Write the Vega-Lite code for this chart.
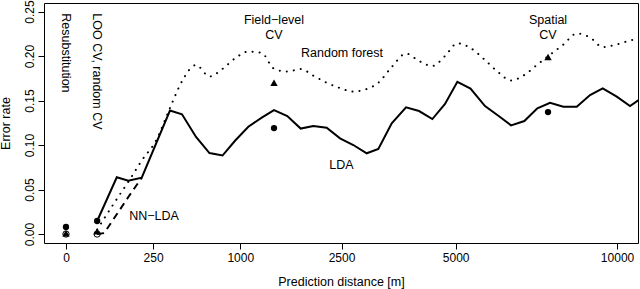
{
  "$schema": "https://vega.github.io/schema/vega-lite/v6.json",
  "width": 594,
  "height": 240,
  "autosize": {"type": "none"},
  "padding": {"left": 44, "top": 3, "right": 2, "bottom": 46},
  "background": "white",
  "config": {
    "font": "Liberation Sans",
    "view": {"stroke": "black", "strokeWidth": 1},
    "axis": {
      "domain": false,
      "grid": false,
      "tickColor": "black",
      "tickSize": 6,
      "labelColor": "black",
      "labelFontSize": 12,
      "titleColor": "black",
      "titleFontSize": 12.5,
      "titleFontWeight": "normal",
      "labelFont": "Liberation Sans",
      "titleFont": "Liberation Sans"
    }
  },
  "datasets": {
    "lines": [
      {"method": "LDA", "dist": 32, "err": 0.0146},
      {"method": "LDA", "dist": 85, "err": 0.0637},
      {"method": "LDA", "dist": 128, "err": 0.0599},
      {"method": "LDA", "dist": 189, "err": 0.0633},
      {"method": "LDA", "dist": 356, "err": 0.1388},
      {"method": "LDA", "dist": 443, "err": 0.1346},
      {"method": "LDA", "dist": 557, "err": 0.109},
      {"method": "LDA", "dist": 678, "err": 0.091},
      {"method": "LDA", "dist": 807, "err": 0.0882},
      {"method": "LDA", "dist": 941, "err": 0.1048},
      {"method": "LDA", "dist": 1095, "err": 0.1206},
      {"method": "LDA", "dist": 1262, "err": 0.1307},
      {"method": "LDA", "dist": 1425, "err": 0.1393},
      {"method": "LDA", "dist": 1613, "err": 0.1326},
      {"method": "LDA", "dist": 1814, "err": 0.1185},
      {"method": "LDA", "dist": 2014, "err": 0.1213},
      {"method": "LDA", "dist": 2238, "err": 0.1194},
      {"method": "LDA", "dist": 2473, "err": 0.1075},
      {"method": "LDA", "dist": 2719, "err": 0.1},
      {"method": "LDA", "dist": 2978, "err": 0.0907},
      {"method": "LDA", "dist": 3213, "err": 0.0955},
      {"method": "LDA", "dist": 3494, "err": 0.1244},
      {"method": "LDA", "dist": 3808, "err": 0.1424},
      {"method": "LDA", "dist": 4105, "err": 0.1382},
      {"method": "LDA", "dist": 4420, "err": 0.1292},
      {"method": "LDA", "dist": 4731, "err": 0.1461},
      {"method": "LDA", "dist": 5044, "err": 0.1711},
      {"method": "LDA", "dist": 5389, "err": 0.1635},
      {"method": "LDA", "dist": 5782, "err": 0.1438},
      {"method": "LDA", "dist": 6156, "err": 0.1329},
      {"method": "LDA", "dist": 6522, "err": 0.1221},
      {"method": "LDA", "dist": 6919, "err": 0.127},
      {"method": "LDA", "dist": 7317, "err": 0.1412},
      {"method": "LDA", "dist": 7716, "err": 0.1475},
      {"method": "LDA", "dist": 8146, "err": 0.143},
      {"method": "LDA", "dist": 8591, "err": 0.143},
      {"method": "LDA", "dist": 9044, "err": 0.1562},
      {"method": "LDA", "dist": 9487, "err": 0.1637},
      {"method": "LDA", "dist": 9990, "err": 0.1543},
      {"method": "LDA", "dist": 10477, "err": 0.1438},
      {"method": "LDA", "dist": 10800, "err": 0.1505},
      {"method": "RF", "dist": 32, "err": 0.005},
      {"method": "RF", "dist": 85, "err": 0.0393},
      {"method": "RF", "dist": 128, "err": 0.0587},
      {"method": "RF", "dist": 189, "err": 0.0826},
      {"method": "RF", "dist": 267, "err": 0.105},
      {"method": "RF", "dist": 356, "err": 0.1416},
      {"method": "RF", "dist": 443, "err": 0.1716},
      {"method": "RF", "dist": 557, "err": 0.1899},
      {"method": "RF", "dist": 678, "err": 0.177},
      {"method": "RF", "dist": 807, "err": 0.1856},
      {"method": "RF", "dist": 941, "err": 0.1974},
      {"method": "RF", "dist": 1095, "err": 0.205},
      {"method": "RF", "dist": 1262, "err": 0.2034},
      {"method": "RF", "dist": 1425, "err": 0.1858},
      {"method": "RF", "dist": 1613, "err": 0.1825},
      {"method": "RF", "dist": 1814, "err": 0.1854},
      {"method": "RF", "dist": 2014, "err": 0.178},
      {"method": "RF", "dist": 2238, "err": 0.17},
      {"method": "RF", "dist": 2473, "err": 0.164},
      {"method": "RF", "dist": 2719, "err": 0.16},
      {"method": "RF", "dist": 2978, "err": 0.163},
      {"method": "RF", "dist": 3213, "err": 0.17},
      {"method": "RF", "dist": 3494, "err": 0.1876},
      {"method": "RF", "dist": 3808, "err": 0.2028},
      {"method": "RF", "dist": 4105, "err": 0.1944},
      {"method": "RF", "dist": 4420, "err": 0.1888},
      {"method": "RF", "dist": 4731, "err": 0.2},
      {"method": "RF", "dist": 5044, "err": 0.2143},
      {"method": "RF", "dist": 5389, "err": 0.209},
      {"method": "RF", "dist": 5782, "err": 0.1955},
      {"method": "RF", "dist": 6156, "err": 0.1817},
      {"method": "RF", "dist": 6522, "err": 0.1725},
      {"method": "RF", "dist": 6919, "err": 0.1787},
      {"method": "RF", "dist": 7317, "err": 0.1904},
      {"method": "RF", "dist": 7716, "err": 0.2015},
      {"method": "RF", "dist": 8146, "err": 0.2129},
      {"method": "RF", "dist": 8591, "err": 0.2253},
      {"method": "RF", "dist": 9044, "err": 0.2208},
      {"method": "RF", "dist": 9487, "err": 0.2101},
      {"method": "RF", "dist": 9990, "err": 0.2131},
      {"method": "RF", "dist": 10477, "err": 0.2174},
      {"method": "RF", "dist": 10800, "err": 0.2197},
      {"method": "NN-LDA", "dist": 32, "err": 0.0},
      {"method": "NN-LDA", "dist": 48, "err": 0.001},
      {"method": "NN-LDA", "dist": 85, "err": 0.0222},
      {"method": "NN-LDA", "dist": 128, "err": 0.0416},
      {"method": "NN-LDA", "dist": 189, "err": 0.0633}
    ],
    "points": [
      {"method": "LDA", "dist": 0, "err": 0.008},
      {"method": "RF", "dist": 0, "err": 0.0008},
      {"method": "NN-LDA", "dist": 0, "err": 0.0},
      {"method": "LDA", "dist": 32, "err": 0.0146},
      {"method": "RF", "dist": 32, "err": 0.003},
      {"method": "NN-LDA", "dist": 32, "err": 0.0},
      {"method": "LDA", "dist": 1425, "err": 0.119},
      {"method": "RF", "dist": 1425, "err": 0.17},
      {"method": "LDA", "dist": 7652, "err": 0.137},
      {"method": "RF", "dist": 7652, "err": 0.199}
    ],
    "vlabels": [
      {"label": "Resubstitution", "dist": 0, "err": 0.248},
      {"label": "LOO CV, random CV", "dist": 32, "err": 0.248}
    ],
    "labels": [
      {"label": "Field−level", "dist": 1425, "err": 0.2404},
      {"label": "CV", "dist": 1425, "err": 0.2236},
      {"label": "Random forest", "dist": 2509, "err": 0.2034},
      {"label": "Spatial", "dist": 7652, "err": 0.2404},
      {"label": "CV", "dist": 7652, "err": 0.2236},
      {"label": "LDA", "dist": 2500, "err": 0.0775},
      {"label": "NN−LDA", "dist": 255, "err": 0.0202}
    ]
  },
  "encoding": {
    "x": {
      "field": "dist",
      "type": "quantitative",
      "scale": {"type": "sqrt", "domain": [-15.92, 10775], "nice": false, "zero": false},
      "axis": {
        "values": [0, 250, 1000, 2500, 5000, 10000],
        "format": "d",
        "title": "Prediction distance [m]",
        "labelBaseline": "alphabetic",
        "labelPadding": 12,
        "titleBaseline": "alphabetic",
        "titleY": 42
      }
    },
    "y": {
      "field": "err",
      "type": "quantitative",
      "scale": {"domain": [-0.0101, 0.2596], "nice": false, "zero": false},
      "axis": {
        "values": [0, 0.05, 0.1, 0.15, 0.2, 0.25],
        "format": ".2f",
        "labelAngle": -90,
        "labelAlign": "center",
        "labelBaseline": "alphabetic",
        "labelPadding": 5,
        "title": "Error rate",
        "titleAngle": -90,
        "titleBaseline": "alphabetic",
        "titleAlign": "center",
        "titleX": -35,
        "titleY": 120
      }
    }
  },
  "layer": [
    {
      "data": {"name": "lines"},
      "transform": [{"filter": "datum.method === 'LDA'"}],
      "mark": {"type": "line", "color": "black", "strokeWidth": 2, "clip": true}
    },
    {
      "data": {"name": "lines"},
      "transform": [{"filter": "datum.method === 'RF'"}],
      "mark": {"type": "line", "color": "black", "strokeWidth": 2, "strokeDash": [0.1, 7], "strokeCap": "round", "interpolate": "monotone", "clip": true}
    },
    {
      "data": {"name": "lines"},
      "transform": [{"filter": "datum.method === 'NN-LDA'"}],
      "mark": {"type": "line", "color": "black", "strokeWidth": 2, "strokeDash": [7, 5], "clip": true}
    },
    {
      "data": {"name": "points"},
      "transform": [{"filter": "datum.method === 'LDA'"}],
      "mark": {"type": "point", "shape": "circle", "filled": true, "color": "black", "size": 40, "opacity": 1}
    },
    {
      "data": {"name": "points"},
      "transform": [{"filter": "datum.method === 'RF'"}],
      "mark": {"type": "point", "shape": "triangle-up", "filled": true, "color": "black", "size": 55, "opacity": 1}
    },
    {
      "data": {"name": "points"},
      "transform": [{"filter": "datum.method === 'NN-LDA'"}],
      "mark": {"type": "point", "shape": "circle", "filled": false, "color": "black", "strokeWidth": 1, "size": 40, "opacity": 1}
    },
    {
      "data": {"name": "vlabels"},
      "mark": {"type": "text", "angle": 90, "align": "left", "baseline": "middle", "fontSize": 12.5, "color": "black", "font": "Liberation Sans"},
      "encoding": {"text": {"field": "label"}}
    },
    {
      "data": {"name": "labels"},
      "mark": {"type": "text", "align": "center", "baseline": "middle", "fontSize": 12.5, "color": "black", "font": "Liberation Sans"},
      "encoding": {"text": {"field": "label"}}
    }
  ]
}
